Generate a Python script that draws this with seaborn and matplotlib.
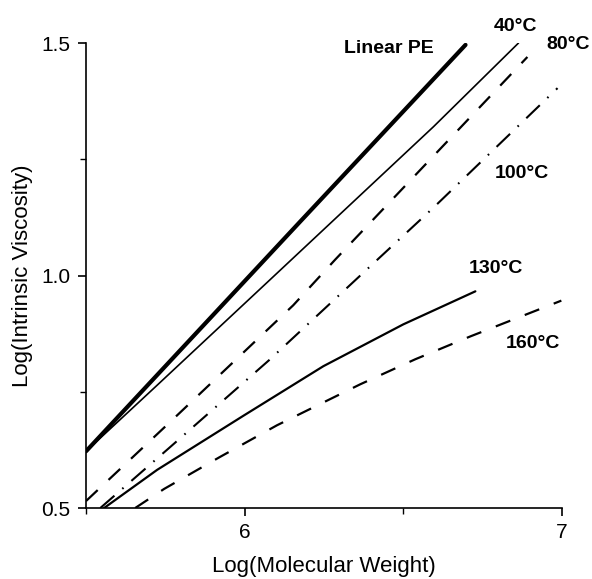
import pandas as pd
import seaborn as sns
import matplotlib.pyplot as plt
from matplotlib.ticker import MultipleLocator

sns.set_theme(style="ticks")
plt.rcParams['font.family'] = ['Liberation Sans', 'DejaVu Sans']

# curves: log(M) vs log([eta])
pe_x = [5.5, 6.175, 6.696]
pe_y = [0.622, 1.116, 1.496]
t40_x = [5.5, 5.724, 6.08, 6.595, 6.863]
t40_y = [0.622, 0.764, 0.991, 1.32, 1.5]
t80_x = [5.5, 5.765, 6.153, 6.285, 6.891]
t80_y = [0.515, 0.685, 0.936, 1.034, 1.47]
t100_x = [5.545, 5.765, 6.077, 6.595, 6.986]
t100_y = [0.5, 0.631, 0.818, 1.146, 1.403]
t130_x = [5.557, 5.724, 5.995, 6.248, 6.5, 6.727]
t130_y = [0.5, 0.582, 0.698, 0.805, 0.895, 0.966]
t160_x = [5.655, 5.746, 5.92, 6.102, 6.364, 6.538, 6.711, 6.998]
t160_y = [0.5, 0.541, 0.609, 0.678, 0.766, 0.82, 0.869, 0.946]

curves = {
    "Linear PE": (pe_x, pe_y),
    "40°C": (t40_x, t40_y),
    "80°C": (t80_x, t80_y),
    "100°C": (t100_x, t100_y),
    "130°C": (t130_x, t130_y),
    "160°C": (t160_x, t160_y),
}
rows = []
for name, (xs, ys) in curves.items():
    for a, b in zip(xs, ys):
        rows.append({"curve": name, "logM": a, "logeta": b})
data = pd.DataFrame(rows)

styles = {
    "Linear PE": dict(lw=3.0, ls="-"),
    "40°C": dict(lw=1.2, ls="-"),
    "80°C": dict(lw=1.6, ls=(0, (7.2, 6.7))),
    "100°C": dict(lw=1.5, ls=(0, (9, 5, 0.8, 5))),
    "130°C": dict(lw=1.6, ls="-"),
    "160°C": dict(lw=1.6, ls=(0, (7, 7))),
}

# label positions (data coords)
label_pos = {
    "Linear PE": (6.456, 1.489),
    "40°C": (6.853, 1.536),
    "80°C": (7.02, 1.496),
    "100°C": (6.875, 1.219),
    "130°C": (6.793, 1.015),
    "160°C": (6.907, 0.854),
}

fig = plt.figure(figsize=(5.92, 5.79), dpi=100)
ax = fig.add_axes([0.1453, 0.1226, 0.804, 0.8031])

for name in curves:
    sub = data[data["curve"] == name]
    sns.lineplot(data=sub, x="logM", y="logeta", ax=ax, color="black",
                 linewidth=styles[name]["lw"], linestyle=styles[name]["ls"],
                 sort=False, estimator=None)
    lx, ly = label_pos[name]
    ax.text(lx, ly, name, fontsize=14, fontweight="bold", color="black",
            ha="center", va="center", clip_on=False)

ax.set_xlim(5.5, 7)
ax.set_ylim(0.5, 1.5)
ax.set_xticks([6, 7])
ax.set_yticks([0.5, 1.0, 1.5])
ax.xaxis.set_minor_locator(MultipleLocator(0.5))
ax.yaxis.set_minor_locator(MultipleLocator(0.25))
ax.tick_params(which="major", length=6, width=1.2, color="black",
               labelcolor="black", labelsize=15, pad=5)
ax.tick_params(which="minor", length=4, width=1.0, color="black")
for s in ["top", "right"]:
    ax.spines[s].set_visible(False)
for s in ["left", "bottom"]:
    ax.spines[s].set_color("black")
    ax.spines[s].set_linewidth(1.2)

ax.set_xlabel("Log(Molecular Weight)", fontsize=16, color="black", labelpad=10)
ax.set_ylabel("Log(Intrinsic Viscosity)", fontsize=16, color="black", labelpad=6)

fig.savefig("out.png", dpi=100)
